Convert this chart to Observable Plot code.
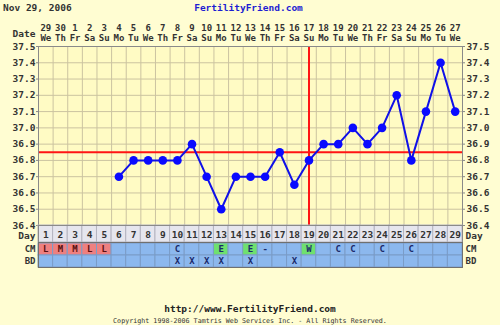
<!DOCTYPE html>
<html><head><meta charset="utf-8">
<script src="https://cdn.jsdelivr.net/npm/d3@7"></script>
<script src="https://cdn.jsdelivr.net/npm/@observablehq/plot@0.6"></script>
<style>
body{margin:0;background:#fffdd2;}
#wrap{position:relative;width:500px;height:325px;overflow:hidden;font-family:"DejaVu Sans Mono",monospace;font-weight:bold;color:#333;}
.abs{position:absolute;white-space:pre;line-height:10px;}
#wrap svg{position:absolute;left:0;}
</style></head><body><div id="wrap"></div>
<script>
const days = [1,2,3,4,5,6,7,8,9,10,11,12,13,14,15,16,17,18,19,20,21,22,23,24,25,26,27,28,29];
const dates = [29,30,1,2,3,4,5,6,7,8,9,10,11,12,13,14,15,16,17,18,19,20,21,22,23,24,25,26,27];
const weekdays = ["We","Th","Fr","Sa","Su","Mo","Tu","We","Th","Fr","Sa","Su","Mo","Tu","We","Th","Fr","Sa","Su","Mo","Tu","We","Th","Fr","Sa","Su","Mo","Tu","We"];
const temps = [null,null,null,null,null,36.7,36.8,36.8,36.8,36.8,36.9,36.7,36.5,36.7,36.7,36.7,36.85,36.65,36.8,36.9,36.9,37.0,36.9,37.0,37.2,36.8,37.1,37.4,37.1];
const coverline = 36.85;
const ovulationDay = 19;
const yTicks = [36.4,36.5,36.6,36.7,36.8,36.9,37.0,37.1,37.2,37.3,37.4,37.5];
const dayRow = ["Day"];
const obsRows = ["CM","BD"];
const cm = ["L","M","M","L","L","","","","","C","","","E","","E","-","","","W","","C","C","","C","","C","","",""];
const bd = ["","","","","","","","","","X","X","X","X","","X","","","X","","","","","","","","","","",""];

const grid = "#cbc3a0";
const font = {fontFamily:"'DejaVu Sans Mono', monospace", fontSize:"9px", fontWeight:"bold", background:"transparent", color:"#333", overflow:"visible"};
const cmFill = v => (v === "L" || v === "M") ? "#ee8080" : (v === "E" || v === "W") ? "#6fe06f" : "#8cb8ee";

const wrap = document.getElementById("wrap");

const chart = Plot.plot({
  width: 500, height: 225,
  marginTop: 46, marginBottom: 0, marginLeft: 38, marginRight: 38,
  style: font,
  x: {domain: [0.5, 29.5], axis: null},
  y: {domain: [36.4, 37.5], axis: null},
  marks: [
    Plot.frame({fill: "#fffbc4"}),
    Plot.ruleX(days, {x: d => d - 0.5, stroke: grid}),
    Plot.ruleY(yTicks, {stroke: grid}),
    Plot.axisY({anchor: "left", ticks: yTicks, tickFormat: d3.format(".1f"), tickSize: 2, tickPadding: 1, stroke: "#888", fontSize: 9.5}),
    Plot.axisY({anchor: "right", ticks: yTicks, tickFormat: d3.format(".1f"), tickSize: 2, tickPadding: 2, stroke: "#888", fontSize: 9.5}),
    Plot.text(days, {x: d => d, text: (d, i) => String(dates[i]), frameAnchor: "top", dy: -21.5}),
    Plot.text(days, {x: d => d, text: (d, i) => weekdays[i], frameAnchor: "top", dy: -11.5}),
    Plot.text(["Date"], {frameAnchor: "top-left", text: d => d, textAnchor: "end", dx: -3, dy: -16, fontSize: 9.5}),
    Plot.ruleY([coverline], {stroke: "#ff1414", strokeWidth: 2}),
    Plot.ruleX([ovulationDay], {stroke: "#ff1414", strokeWidth: 2}),
    Plot.line(days, {x: d => d, y: (d, i) => temps[i], stroke: "#1010e8", strokeWidth: 2}),
    Plot.dot(days.filter((d, i) => temps[i] != null), {x: d => d, y: d => temps[d - 1], r: 4.3, fill: "#0a0aff"}),
    Plot.frame({stroke: "#8a8a8a"})
  ]
});
chart.style.top = "0px";
wrap.appendChild(chart);

const dayTable = Plot.plot({
  width: 500, height: 17,
  marginTop: 0, marginBottom: 0, marginLeft: 38, marginRight: 38,
  style: font,
  x: {domain: [0.5, 29.5], axis: null},
  y: {domain: dayRow, axis: null, padding: 0},
  marks: [
    Plot.barX(days, {x1: d => d - 0.5, x2: d => d + 0.5, y: () => "Day", fill: "#e6e6ee", stroke: "#b4b4c0", dy: 0}),
    Plot.text(days, {x: d => d, y: () => "Day", text: d => String(d), fill: "#333", fontSize: 9.5, dy: 1}),
    Plot.axisY({anchor: "left", tickSize: 0, tickPadding: 3, fontSize: 9.5, dy: 2}),
    Plot.axisY({anchor: "right", tickSize: 0, tickPadding: 3, fontSize: 9.5, dy: 2}),
    Plot.frame({stroke: "#8a8a8a"})
  ]
});
dayTable.style.top = "225px";
wrap.appendChild(dayTable);

const obsTable = Plot.plot({
  width: 500, height: 25,
  marginTop: 0, marginBottom: 0, marginLeft: 38, marginRight: 38,
  style: font,
  x: {domain: [0.5, 29.5], axis: null},
  y: {domain: obsRows, axis: null, padding: 0},
  color: {type: "identity"},
  marks: [
    Plot.barX(days, {x1: d => d - 0.5, x2: d => d + 0.5, y: () => "CM", fill: (d, i) => cmFill(cm[i]), stroke: "#7a9cc8"}),
    Plot.barX(days, {x1: d => d - 0.5, x2: d => d + 0.5, y: () => "BD", fill: "#8cb8ee", stroke: "#7a9cc8"}),
    Plot.text(days, {x: d => d, y: () => "CM", text: (d, i) => cm[i], fill: (d, i) => (cm[i] === "L" || cm[i] === "M") ? "#5a1010" : "#1a2a6a"}),
    Plot.text(days, {x: d => d, y: () => "BD", text: (d, i) => bd[i], fill: "#1a2a6a"}),
    Plot.axisY({anchor: "left", tickSize: 0, tickPadding: 3}),
    Plot.axisY({anchor: "right", tickSize: 0, tickPadding: 3}),
    Plot.frame({stroke: "#707070"})
  ]
});
obsTable.style.top = "242px";
wrap.appendChild(obsTable);

function label(text, css) {
  const d = document.createElement("div");
  d.className = "abs";
  d.textContent = text;
  Object.assign(d.style, css);
  wrap.appendChild(d);
}
label("Nov 29, 2006", {left: "3px", top: "3px", fontSize: "9.5px"});
label("FertilityFriend.com", {left: "0px", width: "497px", textAlign: "center", top: "3px", fontSize: "9.5px", color: "#1e1ed2"});
label("http://www.FertilityFriend.com", {left: "0px", width: "500px", textAlign: "center", top: "304px", fontSize: "9.5px", color: "#222"});
label("Copyright 1998-2006 Tamtris Web Services Inc. - All Rights Reserved.", {left: "0px", width: "500px", textAlign: "center", top: "316px", fontSize: "6.7px", fontWeight: "normal", color: "#333"});
</script></body></html>
